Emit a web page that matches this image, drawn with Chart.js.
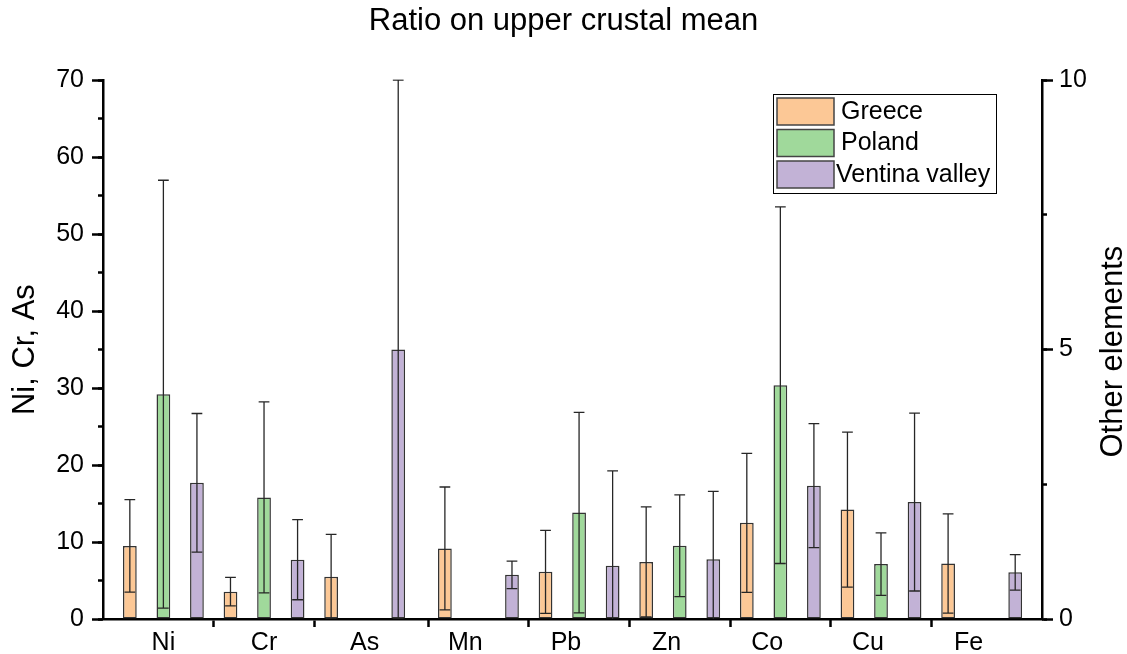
<!DOCTYPE html>
<html>
<head>
<meta charset="utf-8">
<title>Ratio on upper crustal mean</title>
<script src="https://cdn.jsdelivr.net/npm/chart.js@4.4.1/dist/chart.umd.min.js"></script>
<style>
  html, body { margin: 0; padding: 0; background: #fff; }
</style>
</head>
<body>
<canvas id="ratioChart" width="1127" height="654"></canvas>
<script>
// elements read on the left axis, and on the right one
var leftElements = ["Ni", "Cr", "As"];
var rightElements = ["Mn", "Pb", "Zn", "Co", "Cu", "Fe"];
var categories = leftElements.concat(rightElements);

var countries = ["Greece", "Poland", "Ventina valley"];
var barColors = ["#fcc896", "#a0d99b", "#c2b2d6"];

// mean ratio and error, same order as categories
var greeceMean  = [9.5, 3.55, 5.5, 1.31, 0.875, 1.06, 1.785, 2.03, 1.03];
var greeceErr   = [6.0, 1.85, 5.5, 1.14, 0.77, 1.02, 1.29, 1.44, 0.92];
var polandMean  = [29.2, 15.8, null, null, 1.975, 1.36, 4.34, 1.02, null];
var polandErr   = [27.8, 12.4, null, null, 1.86, 0.945, 3.31, 0.58, null];
var ventinaMean = [17.7, 7.7, 35.0, 0.82, 0.99, 1.11, 2.475, 2.17, 0.866];
var ventinaErr  = [9.0, 5.2, 35.0, 0.255, 1.76, 1.26, 1.15, 1.65, 0.33];

// axis ranges
var leftMax = 70, leftStep = 10;
var rightMax = 10, rightStep = 5;
var leftTitle = "Ni, Cr, As";
var rightTitle = "Other elements";

var means = [greeceMean, polandMean, ventinaMean];
var errs = [greeceErr, polandErr, ventinaErr];

Chart.defaults.font.family = "'Liberation Sans', Arial, sans-serif";
Chart.defaults.color = "#000";

function points(arr, from, to) {
  var out = [];
  for (var i = from; i < to; i++) out.push({ x: i + 1, y: arr[i] });
  return out;
}

// bars of the two layers sit on their own hidden x axes (xL, xR);
// chart.js then splits every category in 6 slots, hence categoryPercentage 2
function barSet(name, k, from, to, xId, yId) {
  return {
    label: name,
    stack: name,
    data: points(means[k], from, to),
    errors: errs[k],
    xAxisID: xId, yAxisID: yId,
    backgroundColor: barColors[k],
    borderColor: "#333",
    borderWidth: 1.5,
    borderSkipped: false,
    categoryPercentage: 2.0,
    barPercentage: 0.41
  };
}

var datasets = [];
countries.forEach(function (name, k) {
  datasets.push(barSet(name, k, 0, leftElements.length, "xL", "y"));
});
countries.forEach(function (name, k) {
  datasets.push(barSet(name, k, leftElements.length, categories.length, "xR", "y2"));
});

// error bars: line from mean-err to mean+err with a cap at both ends
var errorBars = {
  id: "errorBars",
  afterDatasetsDraw: function (chart) {
    var ctx = chart.ctx, area = chart.chartArea;
    ctx.save();
    ctx.beginPath();
    ctx.rect(area.left, area.top - 1, area.right - area.left, area.bottom - area.top + 1);
    ctx.clip();
    ctx.strokeStyle = "#262626";
    ctx.lineWidth = 1.3;
    chart.data.datasets.forEach(function (ds, di) {
      var meta = chart.getDatasetMeta(di);
      var ys = chart.scales[ds.yAxisID];
      ds.data.forEach(function (p, j) {
        if (p.y == null) return;
        var err = ds.errors[p.x - 1];
        var bar = meta.data[j];
        var top = ys.getPixelForValue(p.y + err);
        var bot = ys.getPixelForValue(p.y - err);
        var half = (bar.width - 3) / 2;
        ctx.beginPath();
        ctx.moveTo(bar.x, top); ctx.lineTo(bar.x, bot);
        ctx.moveTo(bar.x - half, top); ctx.lineTo(bar.x + half, top);
        ctx.moveTo(bar.x - half, bot); ctx.lineTo(bar.x + half, bot);
        ctx.stroke();
      });
    });
    ctx.restore();
  }
};

// framed legend in the top right corner and the right axis title
var extras = {
  id: "extras",
  afterDraw: function (chart) {
    var ctx = chart.ctx;
    ctx.save();
    ctx.strokeStyle = "#000";
    ctx.lineWidth = 1;
    ctx.strokeRect(773.5, 94.5, 223, 99);
    ctx.font = "25px 'Liberation Sans', Arial, sans-serif";
    ctx.textBaseline = "middle";
    ctx.textAlign = "left";
    countries.forEach(function (name, k) {
      var y = 98 + k * 31.5;
      ctx.fillStyle = barColors[k];
      ctx.fillRect(777, y, 57, 27);
      ctx.strokeStyle = "#444";
      ctx.lineWidth = 1.5;
      ctx.strokeRect(777, y, 57, 27);
      ctx.fillStyle = "#000";
      ctx.fillText(name, k === 2 ? 836 : 841, y + 14);
    });
    ctx.translate(1113, (chart.chartArea.top + chart.chartArea.bottom) / 2 + 2);
    ctx.rotate(-Math.PI / 2);
    ctx.textAlign = "center";
    ctx.font = "31px 'Liberation Sans', Arial, sans-serif";
    ctx.fillText(rightTitle, 0, 0);
    ctx.restore();
  }
};

function categoryTicks(list, offset) {
  return function (scale) {
    scale.ticks = list.map(function (c, i) { return { value: offset + i + 1 }; });
  };
}

function hiddenX(min, max, list, offset) {
  return {
    type: "linear",
    display: false,
    offset: false,
    min: min,
    max: max,
    afterBuildTicks: categoryTicks(list, offset)
  };
}

new Chart(document.getElementById("ratioChart"), {
  type: "bar",
  data: { datasets: datasets },
  options: {
    responsive: false,
    animation: false,
    layout: { padding: 0 },
    plugins: {
      legend: { display: false },
      tooltip: { enabled: false },
      title: {
        display: true,
        text: "Ratio on upper crustal mean",
        font: { size: 31, weight: "normal" },
        color: "#000",
        padding: { top: 3, bottom: 40 }
      }
    },
    scales: {
      // visible axis: element names and the ticks between Ni, Cr, As
      x: {
        type: "linear",
        position: "bottom",
        weight: 1,
        offset: false,
        min: 0.4,
        max: 9.73,
        afterBuildTicks: categoryTicks(categories, 0),
        afterFit: function (s) { s.height = 35; },
        ticks: {
          autoSkip: false,
          maxRotation: 0,
          padding: 1,
          font: { size: 25 },
          callback: function (v) { return categories[v - 1]; }
        },
        grid: {
          offset: true,
          drawOnChartArea: false,
          tickLength: 8,
          tickWidth: 2.5,
          tickColor: function (c) { return (c.index === 1 || c.index === 2) ? "#000" : "rgba(0,0,0,0)"; }
        },
        border: { color: "#000", width: 2.5 }
      },
      // ticks between the right-axis elements, slightly shifted in the original
      x2: {
        type: "linear",
        position: "bottom",
        weight: 0,
        offset: false,
        min: 0.27,
        max: 9.6,
        afterBuildTicks: categoryTicks(rightElements, leftElements.length),
        afterFit: function (s) { s.height = 0; },
        ticks: { display: false },
        grid: {
          offset: true,
          drawOnChartArea: false,
          tickLength: 8,
          tickWidth: 2.5,
          tickColor: function (c) { return c.index !== undefined ? "#000" : "rgba(0,0,0,0)"; }
        },
        border: { display: false }
      },
      xL: hiddenX(-0.1, 9.23, leftElements, 0),
      xR: hiddenX(0.103, 9.433, rightElements, leftElements.length),
      y: {
        position: "left",
        weight: 1,
        stacked: false,
        min: 0,
        max: leftMax,
        afterFit: function (s) { s.width = 103; },
        ticks: { stepSize: leftStep, padding: 8, font: { size: 25 } },
        grid: { drawOnChartArea: false, tickLength: 11, tickWidth: 2.5, tickColor: "#000" },
        border: { color: "#000", width: 2.5 },
        title: { display: true, text: leftTitle, font: { size: 31 }, padding: { top: 7 } }
      },
      yMinor: {
        type: "linear",
        position: "left",
        weight: 0,
        min: 0,
        max: leftMax,
        afterFit: function (s) { s.width = 0; },
        ticks: { display: false, stepSize: leftStep / 2 },
        grid: { drawOnChartArea: false, tickLength: 5, tickWidth: 2.5, tickColor: "#000" },
        border: { display: false }
      },
      y2: {
        type: "linear",
        position: "right",
        weight: 1,
        stacked: false,
        min: 0,
        max: rightMax,
        afterFit: function (s) { s.width = 85; },
        ticks: { stepSize: rightStep, padding: 6, font: { size: 25 } },
        grid: { drawOnChartArea: false, tickLength: 11, tickWidth: 2.5, tickColor: "#000" },
        border: { color: "#000", width: 2.5 }
      },
      y2Minor: {
        type: "linear",
        position: "right",
        weight: 0,
        min: 0,
        max: rightMax,
        afterFit: function (s) { s.width = 0; },
        ticks: { display: false, stepSize: rightStep / 2 },
        grid: { drawOnChartArea: false, tickLength: 5, tickWidth: 2.5, tickColor: "#000" },
        border: { display: false }
      }
    }
  },
  plugins: [errorBars, extras]
});
</script>
</body>
</html>
